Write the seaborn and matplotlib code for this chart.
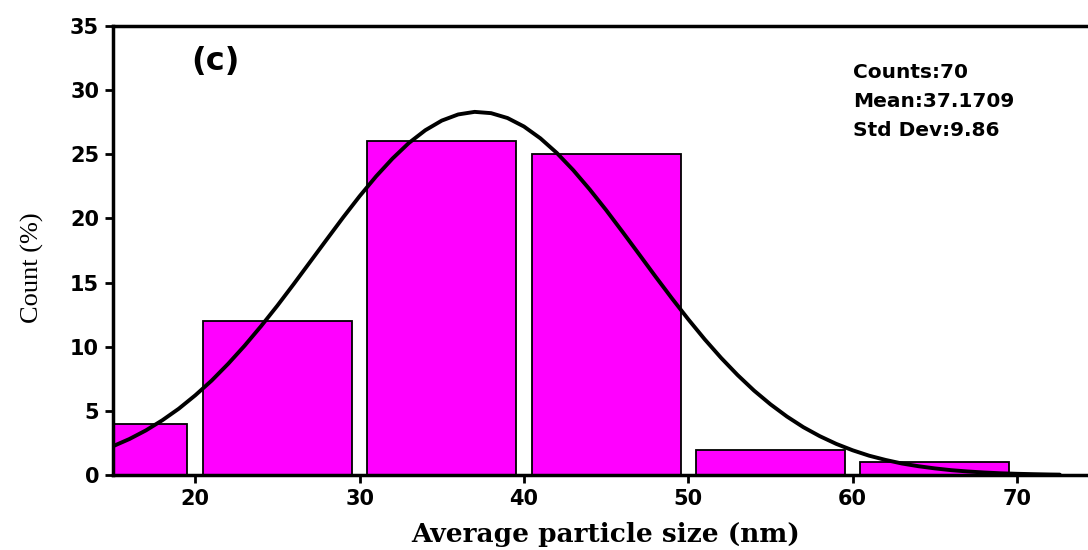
import seaborn as sns
import matplotlib.pyplot as plt

# histogram bins (bin centres, percent)
bin_centres = [15, 25, 35, 45, 55, 65]
bin_counts = [4, 12, 26, 25, 2, 1]

# fitted normal curve
curve_x = [15, 16, 17, 18, 19, 20, 21, 22, 23, 24, 25, 26, 27, 28, 29, 30,
           31, 32, 33, 34, 35, 36, 37, 38, 39, 40, 41, 42, 43, 44, 45, 46,
           47, 48, 49, 50, 51, 52, 53, 54, 55, 56, 57, 58, 59, 60, 61, 62,
           63, 64, 65, 66, 67, 68, 69, 70, 71, 72, 72.6]
curve_y = [2.26, 2.82, 3.49, 4.28, 5.18, 6.22, 7.37, 8.67, 10.08, 11.60,
           13.21, 14.90, 16.63, 18.36, 20.08, 21.73, 23.27, 24.66, 25.88, 26.87,
           27.62, 28.10, 28.30, 28.20, 27.82, 27.16, 26.24, 25.10, 23.76, 22.26,
           20.65, 18.95, 17.22, 15.48, 13.78, 12.14, 10.58, 9.13, 7.80, 6.59,
           5.52, 4.57, 3.74, 3.04, 2.44, 1.94, 1.52, 1.19, 0.91, 0.70,
           0.53, 0.39, 0.29, 0.21, 0.15, 0.11, 0.08, 0.055, 0.045]

stats_lines = ["Counts:70", "Mean:37.1709", "Std Dev:9.86"]

sns.set_theme(style="white")
plt.rcParams['font.family'] = ['DejaVu Sans']
plt.rcParams['text.color'] = 'black'
plt.rcParams['axes.labelcolor'] = 'black'
plt.rcParams['xtick.color'] = 'black'
plt.rcParams['ytick.color'] = 'black'

fig = plt.figure(figsize=(10.88, 5.5), dpi=100)
ax = fig.add_axes([0.1039, 0.136, 0.92, 0.817])

sns.barplot(x=bin_centres, y=bin_counts, native_scale=True, width=0.905,
            color='#ff00ff', saturation=1, edgecolor='black', linewidth=1.3, ax=ax)
sns.lineplot(x=curve_x, y=curve_y, color='black', linewidth=2.8, ax=ax)

ax.set_xlim(15, 75.9)
ax.set_ylim(0, 35)
ax.set_xticks([20, 30, 40, 50, 60, 70])
ax.set_yticks(range(0, 36, 5))
ax.tick_params(axis='both', direction='out', length=6, width=2, labelsize=15,
               bottom=True, left=True, pad=4)
for lab in ax.get_xticklabels() + ax.get_yticklabels():
    lab.set_fontweight('bold')

for side in ['left', 'bottom', 'top']:
    ax.spines[side].set_linewidth(2.5)
    ax.spines[side].set_color('black')
ax.spines['right'].set_visible(False)

ax.set_xlabel('Average particle size (nm)', family='DejaVu Serif',
              fontweight='bold', fontsize=19)
ax.set_ylabel('Count (%)', family='Liberation Serif', fontsize=19)
ax.xaxis.set_label_coords(0.4925, -0.104)
ax.yaxis.set_label_coords(-0.069, 0.461)

ax.text(0.102, 0.92, '(c)', transform=ax.transAxes, fontsize=23,
        fontweight='bold', va='center', ha='center')
for i, line in enumerate(stats_lines):
    ax.text(0.739, 0.897 - i * 0.065, line, transform=ax.transAxes,
            fontsize=14.5, fontweight='bold', va='center', ha='left')

plt.savefig('out.png', dpi=100)
